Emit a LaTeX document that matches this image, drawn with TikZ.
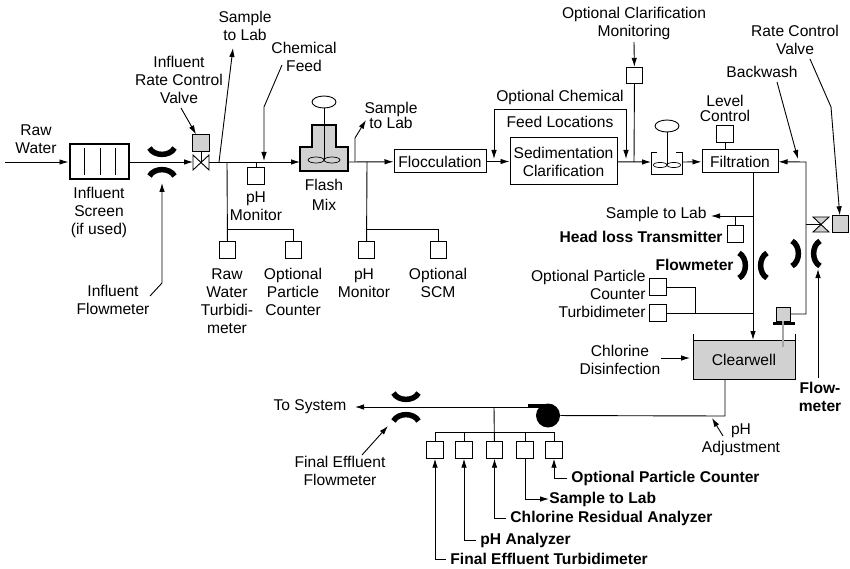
\documentclass[tikz,border=0pt]{standalone}
\usepackage{fontspec}
\setmainfont{Liberation Sans}
\usepackage{tikz}
\usetikzlibrary{arrows.meta,positioning,shapes.geometric}
\definecolor{tankgray}{gray}{0.82}

\begin{document}
\begin{tikzpicture}[
        x=1pt, y=-1pt,
        line width=0.9pt,
        lbl/.style={font=\fontsize{15.6}{18}\selectfont, align=center, inner sep=0pt},
        blbl/.style={font=\fontsize{15.6}{18}\selectfont\bfseries, align=center, inner sep=0pt},
        box/.style={rectangle, draw, line width=1pt, inner sep=0pt, align=center,
                    font=\fontsize{15.6}{18}\selectfont},
        sensor/.style={rectangle, draw, minimum size=16.5pt, inner sep=0pt},
        actuator/.style={sensor, fill=tankgray},
        pipe/.style={-{Latex[length=9pt,width=5.5pt]}},
        flowgap/.pic={
          \draw[line width=5.5pt] (-12.5,-14) .. controls (-8,-5.5) and (8,-5.5) .. (12.5,-14);
          \draw[line width=5.5pt] (-12.5,14) .. controls (-8,5.5) and (8,5.5) .. (12.5,14);
        },
        paddle/.pic={
          \draw[line width=0.7pt] (-8,0) ellipse (8 and 3);
          \draw[line width=0.7pt] (8,0) ellipse (8 and 3);
        }
      ]
      \useasboundingbox (0,0) rectangle (850,569);

      % influent side
      \coordinate (rawin) at (5,162);
      \node[lbl] (rawlbl) at (36,139) {Raw\\Water};
      \node[rectangle, draw, line width=2pt, minimum width=59pt, minimum height=35pt, inner sep=0pt] (screen) at (99,162) {};
      \foreach \x in {84,100,115} \draw (\x,148) -- (\x,175);
      \node[lbl] (screenlbl) at (99,212) {Influent\\Screen\\(if used)};
      \pic at (162,162) {flowgap};
      \coordinate (fmone) at (162,183);
      \coordinate (fmonetail) at (162,283);
      \coordinate (fmonelead) at (150,296);
      \node[lbl] (fmonelbl) at (113,300) {Influent\\Flowmeter};
      \draw[pipe] (rawin) -- (screen);

      \coordinate (valvein) at (193,162);
      \coordinate (valveout) at (209,162);
      \draw[fill=white] (193,155) -- (209,170) -- (209,155) -- (193,170) -- cycle;
      \node[actuator] (valvebox) at (201,143) {};
      \draw (201,151) -- (201,162);
      \draw[pipe] (screen) -- (valvein);
      \node[lbl] (valvelbl) at (179,80) {Influent\\Rate Control\\Valve};
      \coordinate (valvelead) at (181,108);
      \draw[pipe] (valvelead) -- (valvebox);

      % flash mix
      \filldraw[fill=tankgray, line width=2pt] (300,171) -- (300,147) -- (312,147) -- (312,125)
        -- (336,125) -- (336,147) -- (348,147) -- (348,171) -- cycle;
      \coordinate (mixin) at (300,162);
      \coordinate (mixout) at (348,162);
      \node[draw, ellipse, minimum width=24pt, minimum height=12pt, inner sep=0pt] (mixmotor) at (324,102) {};
      \draw (mixmotor) -- (324,160);
      \pic at (324,160) {paddle};
      \node[lbl] (mixlbl) at (324,195) {Flash\\[2pt]Mix};
      \draw[pipe] (valveout) -- (mixin);

      \coordinate (samplea) at (219,162);
      \coordinate (sampleatip) at (233,48);
      \node[lbl] (samplealbl) at (245,26) {Sample\\to Lab};
      \draw[pipe] (samplea) -- (sampleatip);
      \node[lbl] (chemlbl) at (304,57) {Chemical\\Feed};
      \coordinate (chemlead) at (282,65);
      \coordinate (chemtip) at (264,161);
      \draw[pipe] (chemlead) -- (264,107) -- (chemtip);

      \node[sensor] (phone) at (256,176) {};
      \coordinate (phonetap) at (256,162);
      \draw (phonetap) -- (phone);
      \node[lbl] (phonelbl) at (256,206) {pH\\Monitor};

      % raw water monitors
      \coordinate (rawtap) at (227,162);
      \node[sensor] (rawturb) at (227.5,250) {};
      \node[sensor] (rawpart) at (293.5,250) {};
      \draw (rawtap) -- (rawturb);
      \draw (rawpart) -- (rawpart |- 0,229) -- (227,229);
      \node[lbl] (rawturblbl) at (227,301) {Raw\\Water\\Turbidi-\\meter};
      \node[lbl] (rawpartlbl) at (293,292) {Optional\\Particle\\Counter};

      % mixed water monitors
      \coordinate (mixtap) at (367,162);
      \node[sensor] (phtwo) at (366.5,250) {};
      \node[sensor] (scm) at (438.5,250) {};
      \draw (mixtap) -- (phtwo);
      \draw (scm) -- (scm |- 0,229) -- (367,229);
      \node[lbl] (phtwolbl) at (364,283) {pH\\Monitor};
      \node[lbl] (scmlbl) at (438,283) {Optional\\SCM};

      \coordinate (sampleb) at (355,162);
      \coordinate (samplebtip) at (366,120);
      \draw[pipe] (sampleb) -- (355,138) -- (samplebtip);
      \node[lbl] (sampleblbl) at (391,115) {Sample\\[-3pt]to Lab};

      % flocculation and sedimentation
      \node[box, minimum width=92pt, minimum height=23pt] (floc) at (440,161.5) {Flocculation};
      \node[box, minimum width=107pt, minimum height=47pt] (sed) at (563.5,161.5) {Sedimentation\\Clarification};
      \draw[pipe] (mixout) -- (floc);
      \draw[pipe] (floc) -- (sed);
      \node[lbl] (optchema) at (560,97) {Optional Chemical};
      \node[lbl] (optchemb) at (560,122) {Feed Locations};
      \coordinate (feedleft) at (494,159);
      \coordinate (feedright) at (626,159);
      \draw[pipe] (494,109) -- (feedleft);
      \draw[pipe] (494,109) -- (626,109) -- (feedright);

      % coagulation tank, filter
      \coordinate (tankin) at (651,162);
      \coordinate (tankout) at (682,162);
      \draw (657,152) -- (651,152) -- (651,174) -- (682,174) -- (682,152) -- (676,152);
      \draw[pipe] (sed) -- (tankin);
      \node[draw, ellipse, minimum width=24pt, minimum height=12pt, inner sep=0pt] (tankmotor) at (667,126) {};
      \draw (tankmotor) -- (667,165);
      \pic[scale=0.85] at (667,165) {paddle};
      \node[sensor] (clarbox) at (634.5,75.5) {};
      \coordinate (clartap) at (634,162);
      \draw (clarbox) -- (clartap);
      \node[lbl] (clarlbl) at (634,23) {Optional Clarification\\Monitoring};
      \coordinate (clarlead) at (634,42);
      \draw[pipe] (clarlead) -- (clarbox);

      \node[box, minimum width=76pt, minimum height=23pt] (filter) at (740,161.5) {Filtration};
      \draw[pipe] (tankout) -- (filter);
      \node[sensor] (levelbox) at (725,134) {};
      \draw (levelbox) -- (levelbox |- filter.north);
      \node[lbl] (levellbl) at (725,108) {Level\\[-3pt]Control};

      % backwash loop
      \node[lbl] (backlbl) at (762,72) {Backwash};
      \coordinate (backlead) at (777,82);
      \coordinate (backtip) at (798,159);
      \draw[pipe] (backlead) -- (backtip);
      \coordinate (backtop) at (806,162);
      \node[rectangle, draw, fill=tankgray, minimum width=14pt, minimum height=14pt, inner sep=0pt] (backpump) at (783,314) {};
      \draw[pipe] (backpump.east) -- (806,314) -- (backtop) -- (filter);
      \draw[line width=3pt] (773,323.5) -- (795,323.5);
      \draw[fill=tankgray] (813,217) -- (829,217) -- (813,232) -- (829,232) -- cycle;
      \node[actuator] (ratebox) at (840.5,224) {};
      \draw (806,224) -- (821,224);
      \node[lbl] (ratelbl) at (795,40) {Rate Control\\Valve};
      \coordinate (ratelead) at (810,59);
      \draw[pipe] (ratelead) -- (831,107) -- (ratebox);
      \pic[rotate=90] at (806,253.5) {flowgap};
      \node[blbl] (fmrlbl) at (820,397) {Flow-\\meter};
      \coordinate (fmrtail) at (818,378);
      \coordinate (fmrtip) at (818,269);
      \draw[pipe] (fmrtail) -- (fmrtip);

      % filter effluent
      \filldraw[fill=tankgray, draw=none] (693,340) rectangle (795,379);
      \node[lbl] (wellname) at (744,360) {Clearwell};
      \draw (693,334) -- (693,379) -- (795,379) -- (795,334);
      \draw (693,340) -- (795,340);
      \coordinate (wellin) at (753,340);
      \coordinate (filterout) at (753,173);
      \draw[pipe] (filterout) -- (wellin);
      \draw[line width=2pt, gray!70] (783,321) -- (783,347);
      \pic[rotate=90] at (753,265.5) {flowgap};
      \node[blbl, anchor=east] (fmflbl) at (734,265) {Flowmeter};

      \coordinate (labtap) at (753,216);
      \coordinate (labtip) at (711,216);
      \draw[pipe] (labtap) -- (labtip);
      \node[lbl, anchor=east] (lablbl) at (707,214) {Sample to Lab};
      \node[sensor] (headbox) at (735.5,234) {};
      \draw (headbox) -- (735.5,216);
      \node[blbl, anchor=east] (headlbl) at (723,237) {Head loss Transmitter};

      \node[sensor] (partbox) at (658,287) {};
      \node[sensor] (turbbox) at (658,313) {};
      \draw (partbox) -- (695,287) -- (695,313);
      \draw (turbbox) -- (753,313);
      \node[lbl, anchor=east, align=right] (partlbl) at (646,285) {Optional Particle\\Counter};
      \node[lbl, anchor=east] (turblbl) at (646,312) {Turbidimeter};

      \node[lbl] (cllbl) at (620,360) {Chlorine\\Disinfection};
      \coordinate (cllead) at (661,358);
      \coordinate (cltip) at (690,358);
      \draw[pipe] (cllead) -- (cltip);

      % pump and distribution
      \node[circle, fill=black, minimum size=24pt, inner sep=0pt] (pump) at (548,415.5) {};
      \draw[line width=4pt] (528,406) -- (548,406);
      \coordinate (wellout) at (725,379);
      \draw (wellout) -- (725,416) -- (pump);
      \coordinate (pumpout) at (528,407);
      \coordinate (systip) at (355,407);
      \draw[pipe] (pumpout) -- (systip);
      \node[lbl] (syslbl) at (310,407) {To System};
      \pic at (406,407) {flowgap};
      \node[lbl] (fmflowlbl) at (340,471) {Final Effluent\\Flowmeter};
      \coordinate (fmlead) at (362,455);
      \coordinate (fmtip) at (388,426);
      \draw[pipe] (fmlead) -- (fmtip);
      \node[lbl] (phadjlbl) at (741,440) {pH\\Adjustment};
      \coordinate (phadjlead) at (723,436);
      \coordinate (phadjtip) at (712,418);
      \draw[pipe] (phadjlead) -- (phadjtip);

      % effluent monitors
      \coordinate (efftap) at (494,407);
      \node[sensor] (effturb) at (435,450) {};
      \node[sensor] (effph) at (464,450) {};
      \node[sensor] (effcl) at (494.5,450) {};
      \node[sensor] (efflab) at (525,450) {};
      \node[sensor] (effpart) at (554,450) {};
      \draw (efftap) -- (effcl);
      \draw (effturb) -- (effturb |- 0,432) -- (effpart |- 0,432) -- (effpart);
      \draw (effph) -- (effph |- 0,432);
      \draw (efflab) -- (efflab |- 0,432);

      \node[blbl, anchor=west] (effpartlbl) at (571,478) {Optional Particle Counter};
      \node[blbl, anchor=west] (efflablbl) at (549,499) {Sample to Lab};
      \node[blbl, anchor=west] (effcllbl) at (510,518) {Chlorine Residual Analyzer};
      \node[blbl, anchor=west] (effphlbl) at (480,540) {pH Analyzer};
      \node[blbl, anchor=west] (effturblbl) at (450,559) {Final Effluent Turbidimeter};
      \draw[pipe] (effpartlbl.west) ++(-4,0) -| (effpart);
      \draw[pipe] (efflab) |- (efflablbl);
      \draw[pipe] (effcllbl.west) ++(-4,0) -| (effcl);
      \draw[pipe] (effphlbl.west) ++(-4,0) -| (effph);
      \draw[pipe] (effturblbl.west) ++(-4,0) -| (effturb);

      \draw[pipe] (fmonelead) -- (fmonetail) -- (fmone);
    \end{tikzpicture}
\end{document}
